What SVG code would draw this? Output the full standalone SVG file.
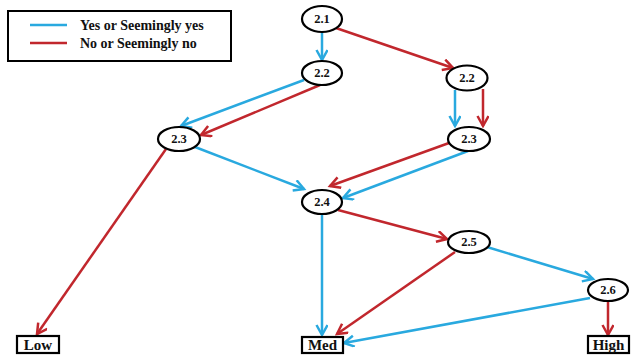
<svg xmlns="http://www.w3.org/2000/svg" width="631" height="357" viewBox="0 0 631 357">
<style>
.bg{fill:#fff}
.node ellipse{fill:#fff;stroke:#000;stroke-width:2.2}
.node rect{fill:#fff;stroke:#000;stroke-width:2.2}
.lbl{font-family:"Liberation Serif",serif;font-weight:bold;font-size:12.5px;text-anchor:middle;fill:#111}
.blbl{font-family:"Liberation Serif",serif;font-weight:bold;font-size:15px;text-anchor:middle;fill:#111}
.leg{font-family:"Liberation Serif",serif;font-weight:bold;font-size:14px;fill:#111}
.y{stroke:#29A9DF;stroke-width:2.5;fill:none;marker-end:url(#ay)}
.n{stroke:#C1272D;stroke-width:2.5;fill:none;marker-end:url(#an)}
</style>
<defs>
<marker id="ay" markerUnits="userSpaceOnUse" markerWidth="14" markerHeight="14" refX="11" refY="6" orient="auto">
<path d="M1,0.5 L11,6 L1,11.5" fill="none" stroke="#29A9DF" stroke-width="2.5"/>
</marker>
<marker id="an" markerUnits="userSpaceOnUse" markerWidth="14" markerHeight="14" refX="11" refY="6" orient="auto">
<path d="M1,0.5 L11,6 L1,11.5" fill="none" stroke="#C1272D" stroke-width="2.5"/>
</marker>
</defs>
<rect class="bg" x="0" y="0" width="631" height="357"/>
<g id="legend">
<rect x="8" y="11" width="223" height="50" fill="#fff" stroke="#000" stroke-width="2"/>
<line x1="30" y1="25" x2="67" y2="25" stroke="#29A9DF" stroke-width="2.5"/>
<line x1="30" y1="43" x2="67" y2="43" stroke="#C1272D" stroke-width="2.5"/>
<text class="leg" x="80" y="30">Yes or Seemingly yes</text>
<text class="leg" x="80" y="48">No or Seemingly no</text>
</g>
<g id="connectors">
<line class="y" x1="322" y1="32" x2="322" y2="60"/>
<line class="n" x1="336" y1="28" x2="453" y2="68"/>
<line class="y" x1="304" y1="80" x2="181" y2="126"/>
<line class="n" x1="320" y1="85" x2="201" y2="135"/>
<line class="y" x1="455" y1="90" x2="455" y2="126"/>
<line class="n" x1="483" y1="89" x2="483" y2="126"/>
<line class="y" x1="195" y1="147" x2="304" y2="189"/>
<line class="n" x1="166" y1="149" x2="37" y2="334"/>
<line class="n" x1="449" y1="143" x2="330" y2="186"/>
<line class="y" x1="468" y1="151" x2="343" y2="198"/>
<line class="y" x1="322" y1="214" x2="322" y2="335"/>
<line class="n" x1="338" y1="210" x2="447" y2="239"/>
<line class="n" x1="455" y1="252" x2="337" y2="334"/>
<line class="y" x1="487" y1="247" x2="593" y2="279"/>
<line class="y" x1="590" y1="298" x2="344" y2="343"/>
<line class="n" x1="608" y1="301" x2="608" y2="335"/>
</g>
<g id="n21" class="node"><ellipse cx="322" cy="19" rx="20" ry="13"/><text class="lbl" x="322" y="23">2.1</text></g>
<g id="n22a" class="node"><ellipse cx="322" cy="73" rx="20" ry="12"/><text class="lbl" x="322" y="77">2.2</text></g>
<g id="n22b" class="node"><ellipse cx="467" cy="78" rx="20.5" ry="12.5"/><text class="lbl" x="467" y="82">2.2</text></g>
<g id="n23a" class="node"><ellipse cx="179" cy="139" rx="21" ry="12"/><text class="lbl" x="179" y="143">2.3</text></g>
<g id="n23b" class="node"><ellipse cx="469" cy="139" rx="21" ry="12"/><text class="lbl" x="469" y="143">2.3</text></g>
<g id="n24" class="node"><ellipse cx="322" cy="202" rx="20" ry="12"/><text class="lbl" x="322" y="206">2.4</text></g>
<g id="n25" class="node"><ellipse cx="469" cy="242" rx="21" ry="11"/><text class="lbl" x="469" y="246">2.5</text></g>
<g id="n26" class="node"><ellipse cx="608" cy="290" rx="20" ry="11"/><text class="lbl" x="608" y="294">2.6</text></g>
<g id="low" class="node"><rect x="17" y="336" width="42" height="17"/><text class="blbl" x="38" y="349.5">Low</text></g>
<g id="med" class="node"><rect x="302" y="337" width="41" height="16"/><text class="blbl" x="322.5" y="350">Med</text></g>
<g id="high" class="node"><rect x="588" y="336" width="41" height="17"/><text class="blbl" x="608.5" y="349.5">High</text></g>
</svg>
